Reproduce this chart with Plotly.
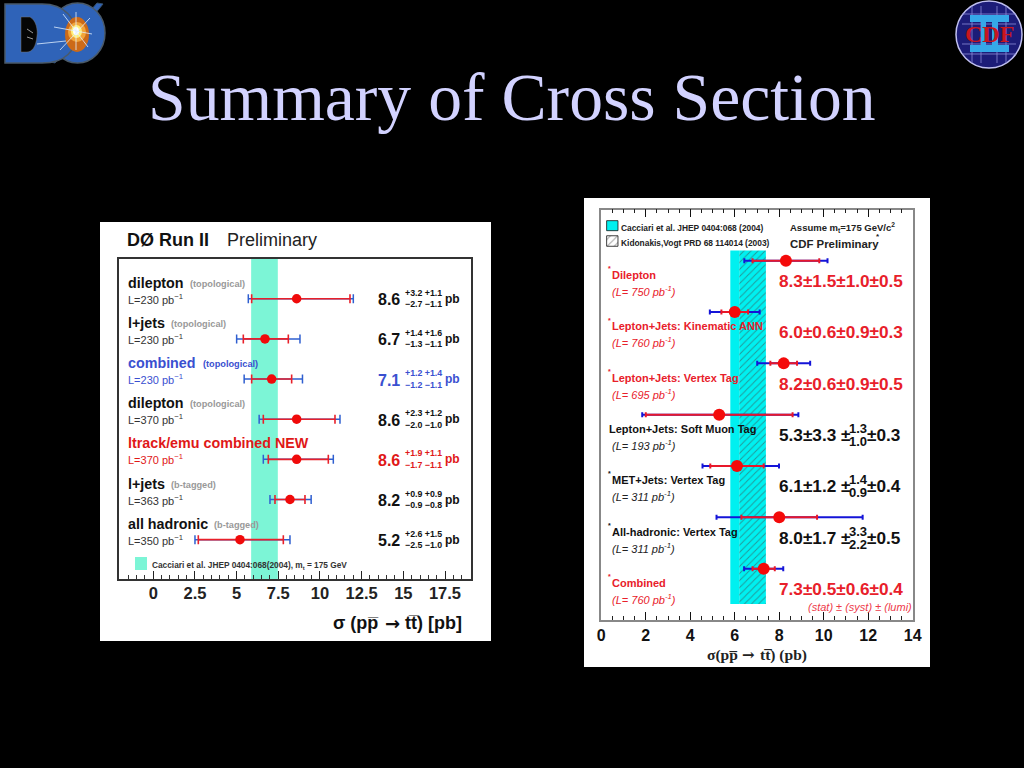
import plotly.graph_objects as go

W, H = 1024, 768
SANS = "Liberation Sans"
SERIF = "Liberation Serif"

# ---------- DØ panel data ----------
d0_names = ["dilepton", "l+jets", "combined", "dilepton", "ltrack/emu combined NEW", "l+jets", "all hadronic"]
d0_kinds = ["(topological)", "(topological)", "(topological)", "(topological)", "", "(b-tagged)", "(b-tagged)"]
d0_lumi = [230, 230, 230, 370, 370, 363, 350]
d0_center = [8.6, 6.7, 7.1, 8.6, 8.6, 8.2, 5.2]
d0_stat_up = [3.2, 1.4, 1.2, 2.3, 1.9, 0.9, 2.6]
d0_stat_dn = [2.7, 1.3, 1.2, 2.0, 1.7, 0.9, 2.5]
d0_syst_up = [1.1, 1.6, 1.4, 1.2, 1.1, 0.9, 1.5]
d0_syst_dn = [1.1, 1.1, 1.1, 1.0, 1.1, 0.8, 1.0]
d0_total_up = [3.4, 2.1, 1.85, 2.6, 2.2, 1.27, 3.0]
d0_total_dn = [2.9, 1.7, 1.65, 2.25, 2.0, 1.2, 2.7]
d0_rows = [0, 1, 2, 3, 4, 5, 6]
d0_colors = ["#111111", "#111111", "#3a50d0", "#111111", "#e01818", "#111111", "#111111"]
d0_band = [5.87, 7.47]
d0_ticks = [0, 2.5, 5, 7.5, 10, 12.5, 15, 17.5]
d0_ticktext = ["0", "2.5", "5", "7.5", "10", "12.5", "15", "17.5"]

# ---------- CDF panel data ----------
cdf_names = ["Dilepton", "Lepton+Jets: Kinematic ANN", "Lepton+Jets: Vertex Tag", "Lepton+Jets: Soft Muon Tag",
             "MET+Jets: Vertex Tag", "All-hadronic: Vertex Tag", "Combined"]
cdf_lumi = [750, 760, 695, 193, 311, 311, 760]
cdf_center = [8.3, 6.0, 8.2, 5.3, 6.1, 8.0, 7.3]
cdf_stat = [1.5, 0.6, 0.6, 3.3, 1.2, 1.7, 0.5]
cdf_total_up = [1.87, 1.12, 1.19, 3.56, 1.89, 3.75, 0.88]
cdf_total_dn = [1.87, 1.12, 1.19, 3.46, 1.55, 2.82, 0.88]
cdf_rows = [0, 1, 2, 3, 4, 5, 6]
cdf_colors = ["#e8202a", "#e8202a", "#e8202a", "#111111", "#111111", "#111111", "#e8202a"]
cdf_vals = ["8.3±1.5±1.0±0.5", "6.0±0.6±0.9±0.3", "8.2±0.6±0.9±0.5", "5.3±3.3 ±", "6.1±1.2 ±", "8.0±1.7 ±",
            "7.3±0.5±0.6±0.4"]
cdf_ticks = [0, 2, 4, 6, 8, 10, 12, 14]
# theory band pieces and the two legend swatches (start, length, centre row, row height)
band_start = [5.8, 6.2, 0.24, 0.24]
band_len = [0.4, 1.2, 0.51, 0.51]
band_row = [3.245, 3.245, -0.683, -0.384]
band_height = [6.89, 6.89, 0.195, 0.205]
band_fill = ["#00f0f0", "#00f0f0", "#00f0f0", "#ffffff"]
band_pattern = ["", "/", "", "/"]


def px(x):
    return x / W


def py(y):
    return 1 - y / H


anns = []


def note(x, y, text, size=11, color="#111111", family=SANS, anchor="left", bold=False, italic=False):
    if bold:
        text = f"<b>{text}</b>"
    if italic:
        text = f"<i>{text}</i>"
    anns.append(dict(x=px(x), y=py(y), xref="paper", yref="paper", text=text, showarrow=False,
                     xanchor=anchor, yanchor="middle", align=anchor, borderpad=0, borderwidth=0,
                     font=dict(size=size, color=color, family=family)))


shapes = []


def rect(x0, y0, x1, y1, fill, line=None, lw=0):
    shapes.append(dict(type="rect", xref="paper", yref="paper", x0=px(x0), x1=px(x1), y0=py(y0), y1=py(y1),
                       fillcolor=fill, line=dict(color=line or fill, width=lw), layer="below"))


def ell(x0, y0, x1, y1, fill, line=None, lw=0):
    shapes.append(dict(type="circle", xref="paper", yref="paper", x0=px(x0), x1=px(x1), y0=py(y0), y1=py(y1),
                       fillcolor=fill, line=dict(color=line or fill, width=lw), layer="below"))


def path(cmds, fill="rgba(0,0,0,0)", line=None, lw=0):
    out = []
    for c in cmds:
        if c[0] == "Z":
            out.append("Z")
        else:
            pts = c[1:]
            s = " ".join(f"{px(pts[i]):.5f},{py(pts[i + 1]):.5f}" for i in range(0, len(pts), 2))
            out.append(f"{c[0]} {s}")
    shapes.append(dict(type="path", xref="paper", yref="paper", path=" ".join(out), fillcolor=fill,
                       line=dict(color=line or fill, width=lw), layer="below"))


# white panels
rect(100, 222, 491, 641, "#ffffff")
rect(584, 198, 930, 667, "#ffffff")

# ---------- DØ logo ----------
DB = "#2f63b8"
path([("M", 97, 3), ("L", 103, 4), ("L", 55, 63), ("L", 47, 61), ("Z",)], DB, "#35506e", 1)
ell(50, 3, 105, 63, DB, "#4a5a6a", 1.5)
path([("M", 5, 4), ("L", 42, 4), ("C", 66, 4, 76, 20, 76, 34), ("C", 76, 50, 66, 63, 42, 63), ("L", 5, 63), ("Z",)],
     DB, "#4a5a6a", 1.5)
path([("M", 21, 17), ("L", 30, 17), ("C", 36, 20, 38, 30, 37, 36), ("C", 36, 47, 32, 52, 27, 52), ("L", 21, 52), ("Z",)],
     "#050505", "#777777", 0.5)
ell(65, 17, 89, 52, "#cc6a18")
ell(68, 22, 86, 42, "#f2a53a")
ell(71, 25, 82, 38, "#fff07a")
ell(73, 27, 79, 35, "#ffffff")
for a, b, c, d in [(54, 27, 92, 34), (63, 14, 88, 47), (60, 50, 90, 18), (76, 12, 76, 50), (37, 44, 66, 41)]:
    path([("M", a, b), ("L", c, d)], line="#dfefff", lw=0.8)
path([("M", 27, 29), ("L", 33, 33), ("M", 27, 37), ("L", 33, 39)], line="#dddddd", lw=0.7)

# ---------- CDF logo ----------
ell(956, 1, 1022, 68, "#1c1c78", "#c0c0f0", 1.5)
for yy in [14, 24, 44, 54]:
    path([("M", 962, yy), ("L", 1016, yy)], line="#8c8cd8", lw=0.8)
for xx in [972, 981, 997, 1006]:
    path([("M", xx, 6), ("L", xx, 63)], line="#8c8cd8", lw=0.8)
rect(970, 15, 1009, 22, "#35a8e8")
rect(970, 45, 1009, 52, "#35a8e8")
rect(981, 15, 986, 52, "#35a8e8")
rect(992, 15, 998, 52, "#35a8e8")
note(989, 34, "CDF", size=24, color="#c8161e", family=SERIF, anchor="center", bold=True)

# ---------- title ----------
note(512, 97, "Summary of Cross Section", size=67.7, color="#d2d2ff", family=SERIF, anchor="center")

# ---------- DØ text ----------
note(127, 240, "DØ Run II", size=18, bold=True)
note(227, 240, "Preliminary", size=18, color="#222222")
d0_kind_x = [190, 171, 203, 190, None, 171, 214]
for i, name in enumerate(d0_names):
    yy = 298.7 + 40.17 * d0_rows[i]
    col = d0_colors[i]
    note(128, yy - 16, name, size=14.3, color=col, bold=True)
    if d0_kinds[i]:
        kc = "#3a50d0" if col == "#3a50d0" else "#999999"
        note(d0_kind_x[i], yy - 15, d0_kinds[i], size=9.2, color=kc, bold=True)
    note(128, yy, f"L={d0_lumi[i]} pb<sup>−1</sup>", size=11, color=col if col != "#111111" else "#333333")
    note(378, yy + 1, f"{d0_center[i]:.1f}", size=16, color=col, bold=True)
    note(404.5, yy - 6, f"+{d0_stat_up[i]:.1f} +{d0_syst_up[i]:.1f}", size=8.8, color=col, bold=True)
    note(404.5, yy + 5.5, f"−{d0_stat_dn[i]:.1f} −{d0_syst_dn[i]:.1f}", size=8.8, color=col, bold=True)
    note(445, yy, "pb", size=12, color=col, bold=True)
rect(135, 557, 147, 570, "#7cf5d6")
note(152, 565, "Cacciari et al. JHEP 0404:068(2004), m<sub>t</sub> = 175 GeV", size=8.3, color="#333333", bold=True)
note(379, 623, "σ (pp\u0305", size=18, anchor="right", bold=True)
note(392, 623, "→", size=18, family="DejaVu Sans", anchor="center", bold=True)
note(462, 623, "tt\u0305) [pb]", size=18, anchor="right", bold=True)

# ---------- CDF text ----------
note(621, 228, "Cacciari et al. JHEP 0404:068 (2004)", size=8.4, color="#222222", bold=True)
note(621, 243, "Kidonakis,Vogt PRD 68 114014 (2003)", size=8.4, color="#222222", bold=True)
note(790, 227, "Assume m<sub>t</sub>=175 GeV/c<sup>2</sup>", size=9.5, color="#222222", bold=True)
note(790, 244, "CDF Preliminary", size=11.4, color="#222222", bold=True)
note(876, 236, "*", size=8, color="#222222", bold=True)
stack_up = {3: "1.3", 4: "1.4", 5: "3.3"}
stack_dn = {3: "1.0", 4: "0.9", 5: "2.2"}
lumi_tail = {3: "±0.3", 4: "±0.4", 5: "±0.5"}
for i, name in enumerate(cdf_names):
    yy = 260.7 + 51.3 * cdf_rows[i]
    col = cdf_colors[i]
    tx = 609 if i == 3 else 612
    note(tx, yy + 14.4, name, size=11, color=col, bold=True)
    if i != 3:
        note(608, yy + 8, "*", size=7, color=col, bold=True)
    note(612, yy + 30.3, f"(L= {cdf_lumi[i]} pb<sup>-1</sup>)", size=11, color=col if col != "#111111" else "#222222",
         italic=True)
    note(779, yy + 20.3, cdf_vals[i], size=17.2, color=col, bold=True)
    if i in stack_up:
        note(849, yy + 14, stack_up[i], size=13, color=col, bold=True)
        note(849, yy + 27, stack_dn[i], size=13, color=col, bold=True)
        note(867, yy + 20.3, lumi_tail[i], size=17.2, color=col, bold=True)
note(912, 606.7, "(stat) ± (syst) ± (lumi)", size=11, color="#ee3a4a", anchor="right", italic=True)
note(738, 655, "σ(pp\u0305", size=15.5, family=SERIF, anchor="right", bold=True, color="#222222")
note(748, 655, "→", size=15, family="DejaVu Serif", anchor="center", bold=True, color="#222222")
note(760, 655, "tt\u0305) (pb)", size=15.5, family=SERIF, anchor="left", bold=True, color="#222222")

# xy-referenced band of the DØ panel
shapes.append(dict(type="rect", xref="x", yref="y domain", x0=d0_band[0], x1=d0_band[1], y0=0, y1=1,
                   fillcolor="#7cf5d6", line=dict(width=0), layer="below"))

fig = go.Figure()

# DØ
fig.add_trace(go.Scatter(x=d0_center, y=d0_rows, mode="markers", marker=dict(size=1, color="#2f5fd0"),
                         error_x=dict(type="data", symmetric=False, array=d0_total_up, arrayminus=d0_total_dn,
                                      color="#2f5fd0", thickness=1.5, width=4.5),
                         xaxis="x", yaxis="y", showlegend=False))
fig.add_trace(go.Scatter(x=d0_center, y=d0_rows, mode="markers", marker=dict(size=9.5, color="#f00a0a"),
                         error_x=dict(type="data", symmetric=False, array=d0_stat_up, arrayminus=d0_stat_dn,
                                      color="#e8202a", thickness=1.6, width=4.5),
                         xaxis="x", yaxis="y", showlegend=False))

# CDF
fig.add_trace(go.Bar(x=band_len, base=band_start, y=band_row, width=band_height, orientation="h",
                     marker=dict(color=band_fill, line=dict(color=["#00f0f0", "#00f0f0", "#111111", "#111111"], width=[0, 0, 0.8, 0.8]),
                                 pattern=dict(shape=band_pattern, fgcolor="#000000", size=5, solidity=0.2)),
                     xaxis="x2", yaxis="y2", showlegend=False))
fig.add_trace(go.Scatter(x=cdf_center, y=cdf_rows, mode="markers", marker=dict(size=1, color="#1414d8"),
                         error_x=dict(type="data", symmetric=False, array=cdf_total_up, arrayminus=cdf_total_dn,
                                      color="#1414d8", thickness=2, width=2.5),
                         xaxis="x2", yaxis="y2", showlegend=False))
fig.add_trace(go.Scatter(x=cdf_center, y=cdf_rows, mode="markers", marker=dict(size=12, color="#f40a0a"),
                         error_x=dict(type="data", symmetric=True, array=cdf_stat,
                                      color="#e8182a", thickness=2, width=2.5),
                         xaxis="x2", yaxis="y2", showlegend=False))

fig.update_layout(
    width=W, height=H, autosize=False, margin=dict(l=0, r=0, t=0, b=0, pad=0, autoexpand=False),
    paper_bgcolor="#000000", plot_bgcolor="rgba(0,0,0,0)", barmode="overlay", showlegend=False,
    annotations=anns, shapes=shapes, hovermode=False,
    xaxis=dict(domain=[px(119.3), px(471)], range=[-2.04, 19.06], tickmode="array", tickvals=d0_ticks,
               ticktext=d0_ticktext, ticks="inside", ticklen=8, tickwidth=1.2, tickcolor="#222222",
               minor=dict(dtick=0.5, tick0=0, ticks="inside", ticklen=4, tickwidth=1, tickcolor="#333333"),
               showline=True, mirror=True, linecolor="#333333", linewidth=1.5, showgrid=False, zeroline=False,
               tickfont=dict(family=SANS, size=16.5, color="#222222", weight=700), ticklabelstandoff=-2, anchor="y"),
    yaxis=dict(domain=[py(579), py(259)], range=[6.98, -0.99], showticklabels=False, ticks="",
               showline=True, mirror=True, linecolor="#333333", linewidth=1.5, showgrid=False, zeroline=False,
               anchor="x"),
    xaxis2=dict(domain=[px(601.3), px(912.7)], range=[0, 14], tickmode="array", tickvals=cdf_ticks,
                ticks="inside", ticklen=8, tickwidth=1.2, tickcolor="#111111",
                minor=dict(dtick=0.5, tick0=0, ticks="inside", ticklen=4, tickwidth=1, tickcolor="#222222"),
                showline=True, mirror="ticks", linecolor="#888888", linewidth=1.5, showgrid=False, zeroline=False,
                tickfont=dict(family=SANS, size=16, color="#111111", weight=700), anchor="y2"),
    yaxis2=dict(domain=[py(620), py(209.7)], range=[7.0, -0.994], showticklabels=False, ticks="",
                showline=True, mirror=True, linecolor="#888888", linewidth=1.5, showgrid=False, zeroline=False,
                anchor="x2"),
)

fig.write_html("out.html", config=dict(displayModeBar=False),
               post_script="document.body.style.margin='0';document.body.style.background='#000';document.body.style.overflow='hidden';")
